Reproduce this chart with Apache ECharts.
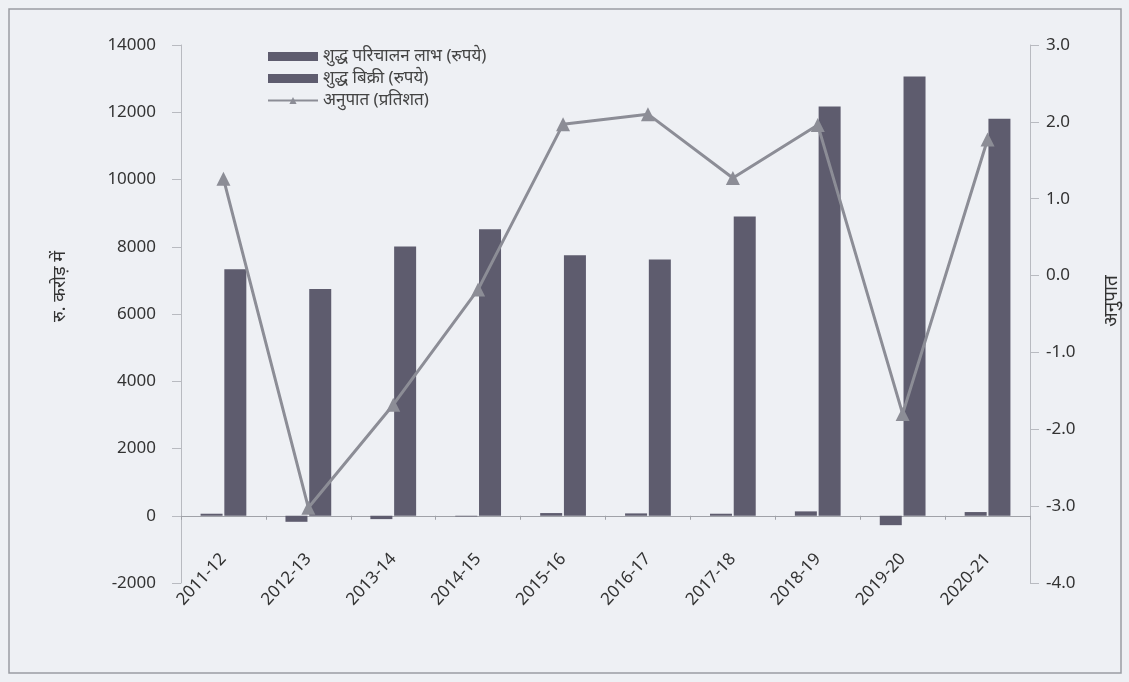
<!DOCTYPE html>
<html>
<head>
<meta charset="utf-8">
<script src="https://cdn.jsdelivr.net/npm/echarts@6/dist/echarts.min.js"></script>
<style>
html,body{margin:0;padding:0;background:#eef0f4;}
#c{width:1129px;height:682px;}
</style>
</head>
<body>
<div id="c"></div>
<script>
const categories = ['2011-12','2012-13','2013-14','2014-15','2015-16','2016-17','2017-18','2018-19','2019-20','2020-21'];
const operatingProfit = [60, -180, -100, -20, 80, 70, 60, 130, -280, 110];
const netSales = [7330, 6740, 8010, 8520, 7750, 7620, 8900, 12170, 13060, 11810];
const ratio = [1.26, -3.02, -1.68, -0.18, 1.97, 2.1, 1.27, 1.96, -1.8, 1.77];
const leftTicks = {min: -2000, max: 14000, interval: 2000};
const rightTicks = {min: -4, max: 3, interval: 1};
const names = ['शुद्ध परिचालन लाभ (रुपये)', 'शुद्ध बिक्री (रुपये)', 'अनुपात (प्रतिशत)'];

const font = '"Noto Sans", "Noto Sans Devanagari", "Lohit Devanagari", "Liberation Sans", sans-serif';
const chart = echarts.init(document.getElementById('c'));
chart.setOption({
  backgroundColor: '#eef0f4',
  textStyle: {fontFamily: font},
  animation: false,
  graphic: [{
    type: 'rect', shape: {x: 9, y: 9, width: 1112, height: 664},
    style: {fill: 'none', stroke: '#9a9ca2', lineWidth: 1.5}, silent: true
  }],
  legend: {
    orient: 'vertical', left: 262, top: 43, itemGap: 5,
    itemWidth: 50, itemHeight: 9,
    textStyle: {color: '#444', fontSize: 17, fontFamily: font},
    data: [
      {name: names[0], icon: 'rect'},
      {name: names[1], icon: 'rect'},
      {name: names[2]}
    ]
  },
  grid: {left: 181, right: 99, top: 45, bottom: 99, containLabel: false, outerBoundsMode: 'none'},
  xAxis: {
    type: 'category', data: categories,
    axisLine: {onZero: true, lineStyle: {color: '#a0a2a8', width: 1}},
    axisTick: {show: true, alignWithLabel: false, length: 4, lineStyle: {color: '#a0a2a8'}},
    axisLabel: {rotate: 47, color: '#333', fontSize: 17, margin: -27, interval: 0}
  },
  yAxis: [{
    type: 'value', min: leftTicks.min, max: leftTicks.max, interval: leftTicks.interval,
    name: 'रु. करोड़ में', nameLocation: 'middle', nameGap: 112, nameRotate: 90,
    nameTextStyle: {color: '#333', fontSize: 18, padding: [0, 0, 0, 55]},
    axisLine: {show: true, lineStyle: {color: '#b8bac0'}},
    axisTick: {show: true, length: 9, lineStyle: {color: '#b8bac0'}},
    axisLabel: {color: '#333', fontSize: 17, margin: 25, formatter: v => String(v)},
    splitLine: {show: false}
  }, {
    type: 'value', min: rightTicks.min, max: rightTicks.max, interval: rightTicks.interval,
    position: 'right',
    name: 'अनुपात', nameLocation: 'middle', nameGap: 72, nameRotate: 90,
    nameTextStyle: {color: '#333', fontSize: 19, padding: [0, 0, 0, 26]},
    axisLine: {show: true, lineStyle: {color: '#b8bac0'}},
    axisTick: {show: true, length: 9, lineStyle: {color: '#b8bac0'}},
    axisLabel: {color: '#333', fontSize: 17, margin: 16, formatter: v => v.toFixed(1)},
    splitLine: {show: false}
  }],
  series: [{
    name: names[0], type: 'bar', data: operatingProfit, yAxisIndex: 0,
    barWidth: 22, barGap: '8%',
    itemStyle: {color: '#5e5c6e'}
  }, {
    name: names[1], type: 'bar', data: netSales, yAxisIndex: 0,
    barWidth: 22,
    itemStyle: {color: '#5e5c6e'}
  }, {
    name: names[2], type: 'line', data: ratio, yAxisIndex: 1,
    symbol: 'triangle', symbolSize: 14,
    lineStyle: {color: '#8c8d96', width: 3},
    itemStyle: {color: '#8c8d96'}
  }]
});
</script>
</body>
</html>
